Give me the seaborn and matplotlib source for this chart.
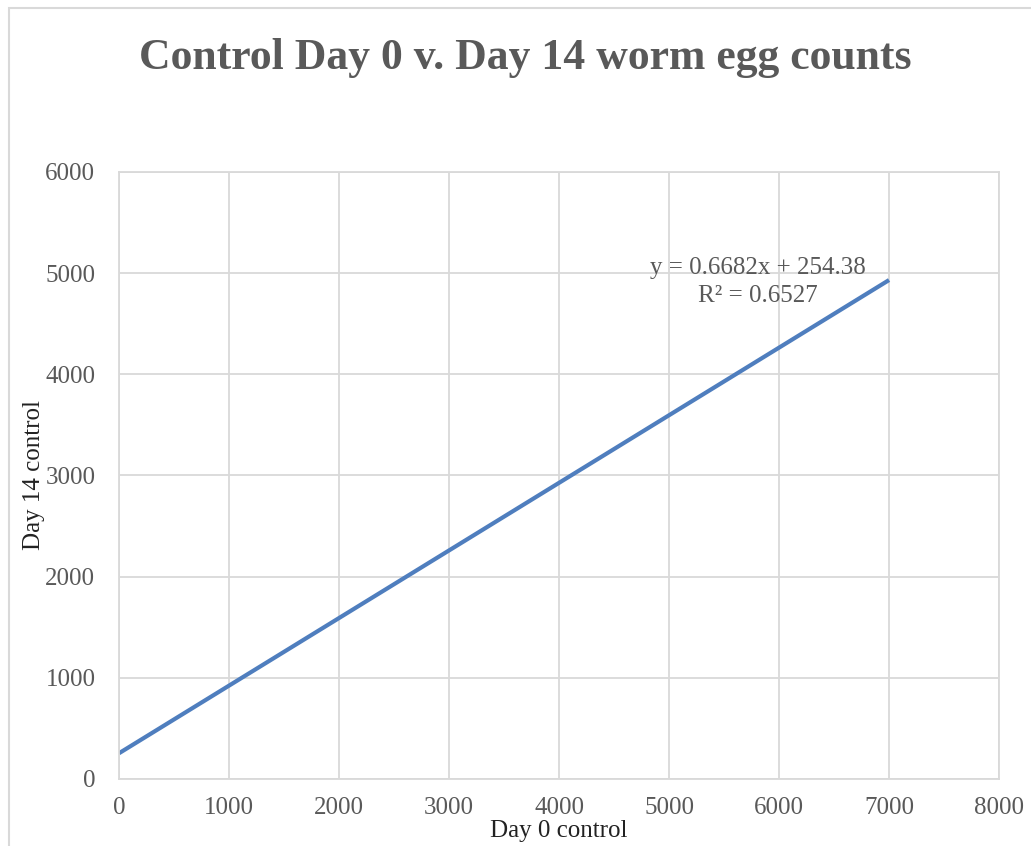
import numpy as np
import pandas as pd
import seaborn as sns
from matplotlib import pyplot as plt
from matplotlib.patches import Rectangle

# trendline endpoints (y = 0.6682x + 254.38)
day0_control = [0, 7000]
day14_control = [254.38, 4931.78]
equation_text = "y = 0.6682x + 254.38"
r2_text = "R\u00b2 = 0.6527"
x_ticks = [0, 1000, 2000, 3000, 4000, 5000, 6000, 7000, 8000]
y_ticks = [0, 1000, 2000, 3000, 4000, 5000, 6000]

sns.set_theme(style='whitegrid')
plt.rcParams['font.family'] = ['Liberation Serif', 'DejaVu Serif']

grid_col = '#D9D9D9'
text_col = '#595959'

fig = plt.figure(figsize=(10.31, 8.46), dpi=100)
ax = fig.add_axes([0.1154, 0.0792, 0.8536, 0.7175])

df = pd.DataFrame({'Day 0 control': day0_control, 'Day 14 control': day14_control})
sns.lineplot(data=df, x='Day 0 control', y='Day 14 control', ax=ax,
             color='#4F7EBE', linewidth=3.0, solid_capstyle='butt')

ax.set_xlim(0, 8000)
ax.set_ylim(0, 6000)
ax.set_xticks(x_ticks)
ax.set_yticks(y_ticks)
ax.grid(True, color=grid_col, linewidth=1.3)
for s in ax.spines.values():
    s.set_color(grid_col)
    s.set_linewidth(1.3)
ax.tick_params(axis='both', length=0, labelsize=18, labelcolor=text_col)
ax.tick_params(axis='y', pad=17)
ax.tick_params(axis='x', pad=13)

ax.set_xlabel('Day 0 control', fontsize=18, color='#222222', labelpad=1)
ax.set_ylabel('Day 14 control', fontsize=18, color='#222222', labelpad=0)

ax.text(5810, 5050, equation_text, ha='center', va='center', fontsize=18, color=text_col)
ax.text(5810, 4775, r2_text, ha='center', va='center', fontsize=18, color=text_col)

fig.text(0.51, 0.932, 'Control Day 0 v. Day 14 worm egg counts', ha='center', va='center',
         fontsize=31.5, fontweight='bold', color=text_col)

fig.patches.append(Rectangle((9 / 1031, -0.1), 1.2, 1.1 - 8 / 846,
                             transform=fig.transFigure, fill=False,
                             edgecolor=grid_col, linewidth=1.5))

fig.savefig('out.png', dpi=100)
